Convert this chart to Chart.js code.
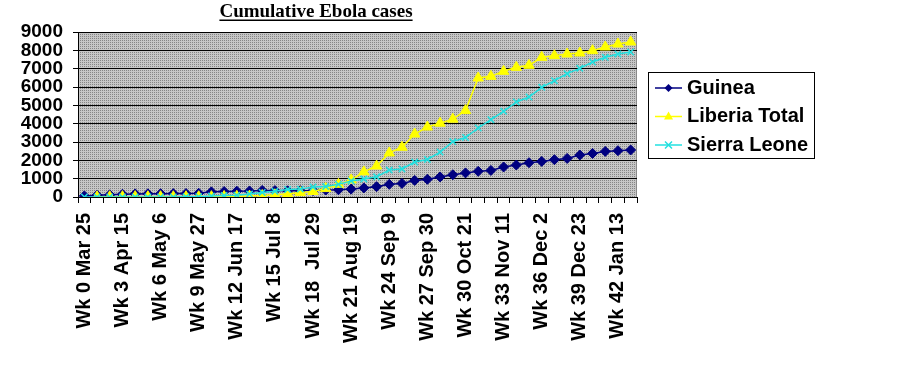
<!DOCTYPE html>
<html>
<head>
<meta charset="utf-8">
<script src="https://cdn.jsdelivr.net/npm/chart.js@4.4.1/dist/chart.umd.min.js"></script>
<style>
  html, body { margin: 0; padding: 0; background: #fff; }
  #wrap { position: relative; width: 900px; height: 369px; }
</style>
</head>
<body>
<div id="wrap"><canvas id="ebolaChart" width="900" height="369"></canvas></div>
<script>
// week numbers (one category per week) and the labels shown every 3rd week
const weeks = [0, 1, 2, 3, 4, 5, 6, 7, 8, 9, 10, 11, 12, 13, 14, 15, 16, 17, 18, 19, 20, 21,
               22, 23, 24, 25, 26, 27, 28, 29, 30, 31, 32, 33, 34, 35, 36, 37, 38, 39, 40, 41, 42, 43];
const tickLabels = ['Wk 0 Mar 25', 'Wk 3 Apr 15', 'Wk 6 May 6', 'Wk 9 May 27', 'Wk 12 Jun 17',
                    'Wk 15 Jul 8', 'Wk 18  Jul 29', 'Wk 21 Aug 19', 'Wk 24 Sep 9', 'Wk 27 Sep 30',
                    'Wk 30 Oct 21', 'Wk 33 Nov 11', 'Wk 36 Dec 2', 'Wk 39 Dec 23', 'Wk 42 Jan 13'];
const yTicks = [0, 1000, 2000, 3000, 4000, 5000, 6000, 7000, 8000, 9000];

const guinea = [60, 100, 120, 150, 170, 175, 180, 185, 190, 205, 280, 300, 320, 330, 360, 350,
                340, 345, 350, 380, 395, 430, 495, 565, 690, 742, 905, 965, 1095, 1215, 1315,
                1400, 1450, 1637, 1746, 1871, 1942, 2035, 2106, 2291, 2379, 2488, 2526, 2564];
const liberia = [null, 10, 15, 20, 20, 15, 15, 15, 15, 15, 20, 30, 40, 50, 80, 120, 170, 240,
                 300, 460, 690, 930, 1370, 1690, 2405, 2712, 3436, 3816, 4025, 4245, 4715, 6491,
                 6582, 6855, 7073, 7182, 7618, 7709, 7800, 7855, 7982, 8182, 8345, 8455];
const sierraLeone = [0, 0, 0, 0, 0, 0, 0, 0, 10, 20, 50, 80, 100, 160, 250, 310, 410, 430, 545,
                     570, 690, 875, 980, 1100, 1470, 1530, 1905, 2050, 2450, 3020, 3245, 3764,
                     4218, 4673, 5182, 5455, 5982, 6345, 6727, 7018, 7364, 7618, 7800, 7909];

const NAVY = '#000080';
const YELLOW = '#ffff00';
const CYAN = '#22e0e0';

// dotted grey fill like the old Excel plot area
function makePattern(ctx) {
    const tile = document.createElement('canvas');
    tile.width = 2;
    tile.height = 2;
    const t = tile.getContext('2d');
    t.fillStyle = '#c6c6c6';
    t.fillRect(0, 0, 2, 2);
    t.fillStyle = '#858585';
    t.fillRect(0, 0, 1, 1);
    return ctx.createPattern(tile, 'repeat');
}

const plotBackground = {
    id: 'plotBackground',
    beforeDraw(chart) {
        const { ctx, chartArea: a } = chart;
        ctx.save();
        ctx.fillStyle = makePattern(ctx);
        ctx.fillRect(a.left, a.top, a.right - a.left, a.bottom - a.top);
        ctx.strokeStyle = '#8a8a8a';
        ctx.lineWidth = 1;
        ctx.beginPath();
        ctx.moveTo(a.right - 0.5, a.top);
        ctx.lineTo(a.right - 0.5, a.bottom);
        ctx.stroke();
        ctx.restore();
    }
};

function drawMarker(ctx, style, x, y, color) {
    ctx.save();
    ctx.fillStyle = color;
    ctx.strokeStyle = color;
    ctx.lineWidth = 1.5;
    ctx.beginPath();
    if (style === 'rectRot') {
        ctx.moveTo(x, y - 4); ctx.lineTo(x + 4, y); ctx.lineTo(x, y + 4); ctx.lineTo(x - 4, y);
        ctx.closePath(); ctx.fill();
    } else if (style === 'triangle') {
        ctx.moveTo(x, y - 5); ctx.lineTo(x + 4.5, y + 3); ctx.lineTo(x - 4.5, y + 3);
        ctx.closePath(); ctx.fill();
    } else {
        ctx.moveTo(x - 3.5, y - 3.5); ctx.lineTo(x + 3.5, y + 3.5);
        ctx.moveTo(x + 3.5, y - 3.5); ctx.lineTo(x - 3.5, y + 3.5);
        ctx.stroke();
    }
    ctx.restore();
}

// title (underlined) and the boxed legend on the right
const decorations = {
    id: 'decorations',
    afterDraw(chart) {
        const ctx = chart.ctx;
        ctx.save();
        ctx.fillStyle = '#000';
        ctx.font = 'bold 19px "Liberation Serif", "Times New Roman", serif';
        ctx.textAlign = 'center';
        ctx.textBaseline = 'alphabetic';
        const title = 'Cumulative Ebola cases';
        ctx.fillText(title, 316, 17);
        const w = ctx.measureText(title).width;
        ctx.fillRect(316 - w / 2, 19.5, w, 1.5);

        ctx.strokeStyle = '#000';
        ctx.lineWidth = 1;
        ctx.strokeRect(648.5, 72.5, 166, 86);

        const rows = [88, 116.5, 145];
        ctx.font = 'bold 20px "Liberation Sans", Arial, sans-serif';
        ctx.textAlign = 'left';
        ctx.textBaseline = 'middle';
        chart.data.datasets.forEach((ds, i) => {
            const y = rows[i];
            ctx.strokeStyle = ds.borderColor;
            ctx.lineWidth = 1.5;
            ctx.beginPath();
            ctx.moveTo(655, y);
            ctx.lineTo(682, y);
            ctx.stroke();
            drawMarker(ctx, ds.pointStyle, 668.5, y, ds.borderColor);
            ctx.fillStyle = '#000';
            ctx.fillText(ds.label, 687, y);
        });
        ctx.restore();
    }
};

const ctx = document.getElementById('ebolaChart').getContext('2d');
new Chart(ctx, {
    type: 'line',
    data: {
        labels: weeks,
        datasets: [{
            label: 'Guinea',
            data: guinea,
            borderColor: NAVY,
            backgroundColor: NAVY,
            borderWidth: 1.5,
            pointStyle: 'rectRot',
            pointRadius: 5,
            pointBorderWidth: 1,
            order: 3,
            tension: 0
        }, {
            label: 'Liberia Total',
            data: liberia,
            borderColor: YELLOW,
            backgroundColor: YELLOW,
            borderWidth: 1.5,
            pointStyle: 'triangle',
            pointRadius: 6,
            pointBorderWidth: 1,
            order: 2,
            tension: 0
        }, {
            label: 'Sierra Leone',
            data: sierraLeone,
            borderColor: CYAN,
            backgroundColor: CYAN,
            borderWidth: 1.5,
            pointStyle: 'crossRot',
            pointRadius: 4.5,
            pointBorderWidth: 1.5,
            order: 1,
            tension: 0
        }]
    },
    options: {
        responsive: false,
        animation: false,
        devicePixelRatio: 1,
        layout: { padding: { top: 32, right: 263, left: 0, bottom: 0 } },
        plugins: {
            legend: { display: false },
            title: { display: false },
            tooltip: { enabled: false }
        },
        scales: {
            x: {
                offset: true,
                grid: {
                    offset: true,
                    drawOnChartArea: false,
                    drawTicks: true,
                    tickLength: 6,
                    color: '#000'
                },
                border: { color: '#000', width: 1 },
                ticks: {
                    autoSkip: false,
                    maxRotation: 90,
                    minRotation: 90,
                    padding: 10,
                    color: '#000',
                    font: { family: '"Liberation Sans", Arial, sans-serif', size: 20, weight: 'bold' },
                    callback: (value, index) => weeks[index] % 3 === 0 ? tickLabels[weeks[index] / 3] : ''
                },
                afterFit: (scale) => { scale.height = 172; }
            },
            y: {
                min: 0,
                max: 9000,
                grid: { color: '#000', lineWidth: 1, tickLength: 5 },
                border: { color: '#000', width: 1 },
                ticks: {
                    autoSkip: false,
                    padding: 10,
                    color: '#000',
                    font: { family: '"Liberation Sans", Arial, sans-serif', size: 19, weight: 'bold' },
                    callback: (v) => String(v)
                },
                afterBuildTicks: (scale) => { scale.ticks = yTicks.map(v => ({ value: v })); },
                afterFit: (scale) => { scale.width = 78; }
            }
        }
    },
    plugins: [plotBackground, decorations]
});
</script>
</body>
</html>
